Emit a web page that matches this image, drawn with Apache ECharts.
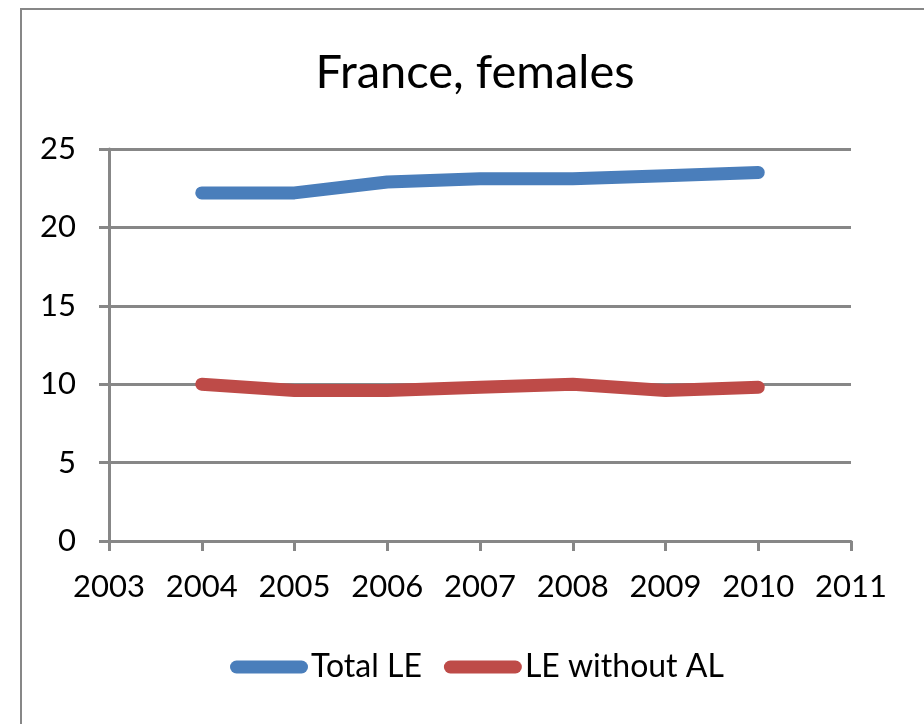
<!DOCTYPE html>
<html>
<head>
<meta charset="utf-8">
<script src="https://cdn.jsdelivr.net/npm/echarts@6/dist/echarts.min.js"></script>
<style>
  html, body { margin: 0; padding: 0; background: #fff; }
  #chart { width: 924px; height: 724px; }
</style>
</head>
<body>
<div id="chart"></div>
<script>
// years on the x axis (2003 and 2011 only frame the lines)
const years = ["2003", "2004", "2005", "2006", "2007", "2008", "2009", "2010", "2011"]
const totalLE = ["-", 22.2, 22.2, 22.9, 23.1, 23.1, 23.3, 23.5, "-"]
const leWithoutAL = ["-", 10.0, 9.6, 9.6, 9.8, 10.0, 9.6, 9.8, "-"]
const seriesNames = ["Total LE", "LE without AL"]

const gridColor = "#878787"
const labelFont = "Lato"

const chart = echarts.init(document.getElementById("chart"))

const option = {
    animation: false,
    backgroundColor: "#fff",
    color: ["#4a7ebb", "#be4b48"],
    graphic: [{
        type: "rect",
        shape: {x: 21, y: 9, width: 1000, height: 1000},
        style: {fill: "none", stroke: gridColor, lineWidth: 2},
        silent: true
    }],
    title: {
        text: "France, females",
        left: 470,
        top: 44,
        textAlign: "center",
        textStyle: {
            fontFamily: labelFont,
            fontSize: 47,
            fontWeight: "normal",
            color: "#000"
        }
    },
    legend: {
        left: 225,
        top: 646,
        itemWidth: 78,
        itemHeight: 13,
        itemGap: 22,
        icon: "path://M6.5,0 L71.5,0 A6.5,6.5 0 0 1 71.5,13 L6.5,13 A6.5,6.5 0 0 1 6.5,0 Z",
        textStyle: {fontFamily: labelFont, fontSize: 32, color: "#000", padding: [0, 0, 0, -2]},
        data: seriesNames
    },
    grid: {left: 109, right: 73, top: 149, bottom: 183},
    xAxis: {
        type: "category",
        data: years,
        boundaryGap: false,
        axisLine: {lineStyle: {color: gridColor, width: 3}},
        axisTick: {show: true, length: 10, interval: 0, lineStyle: {color: gridColor, width: 3}},
        axisLabel: {interval: 0, margin: 30, fontFamily: labelFont, fontSize: 31, color: "#000"},
        splitLine: {show: false}
    },
    yAxis: {
        type: "value",
        min: 0,
        max: 25,
        interval: 5,
        axisLine: {show: true, lineStyle: {color: gridColor, width: 3}},
        axisTick: {show: true, length: 10, lineStyle: {color: gridColor, width: 3}},
        axisLabel: {margin: 33, fontFamily: labelFont, fontSize: 31, color: "#000"},
        splitLine: {lineStyle: {color: gridColor, width: 3}}
    },
    series: [
        {
            name: seriesNames[0],
            type: "line",
            data: totalLE,
            showSymbol: false,
            symbol: "none",
            lineStyle: {width: 13, cap: "round", join: "round"}
        },
        {
            name: seriesNames[1],
            type: "line",
            data: leWithoutAL,
            showSymbol: false,
            symbol: "none",
            lineStyle: {width: 13, cap: "round", join: "round"}
        }
    ]
}

chart.setOption(option)
</script>
</body>
</html>
